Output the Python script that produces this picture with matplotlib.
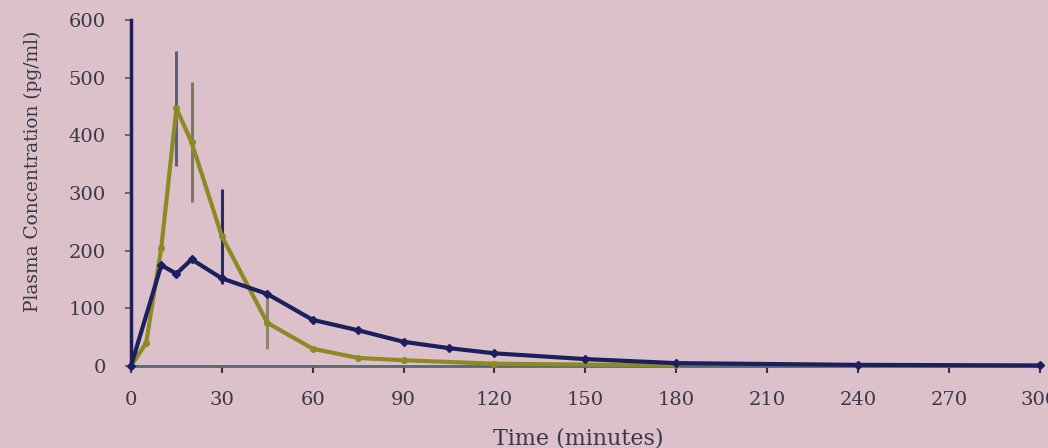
import matplotlib
matplotlib.use("Agg")
import matplotlib.pyplot as plt

# Data
t_blue = [0, 10, 15, 20, 30, 45, 60, 75, 90, 105, 120, 150, 180, 240, 300]
c_blue = [0, 175, 160, 185, 152, 125, 80, 62, 42, 31, 22, 12, 5, 2, 1]

t_green = [0, 5, 10, 15, 20, 30, 45, 60, 75, 90, 120, 180]
c_green = [0, 40, 205, 447, 388, 225, 75, 30, 14, 10, 4, 1]
err_green = [0, 0, 0, 100, 104, 82, 45, 0, 0, 0, 0, 0]

xticks = [0, 30, 60, 90, 120, 150, 180, 210, 240, 270, 300]
yticks = [0, 100, 200, 300, 400, 500, 600]

bg = "#dcc1ca"
navy = "#1c1f5e"
olive = "#8c8a24"
txt = "#3a3848"
serif = ["DejaVu Serif"]

fig = plt.figure(figsize=(10.48, 4.48), dpi=100, facecolor=bg)
ax = fig.add_axes([0.125, 0.183, 0.867, 0.772], facecolor=bg)

err_cols = ["#5e5e7c", "#7e7866", "#2a2c60", "#8e8470"]
k = 0
for t, c, e in zip(t_green, c_green, err_green):
    if e > 0:
        ax.vlines(t, c - e, c + e, color=err_cols[k % len(err_cols)], lw=2.2, zorder=2)
        k += 1
ax.plot(t_green, c_green, color=olive, lw=3, marker="o", ms=4,
        mfc=olive, mec=olive, zorder=3, clip_on=False)
ax.plot(t_blue, c_blue, color=navy, lw=3, marker="D", ms=4.5,
        mfc=navy, mec=navy, zorder=4, clip_on=False)

ax.set_xlim(0, 300)
ax.set_ylim(0, 600)
ax.set_xticks(xticks)
ax.set_yticks(yticks)
ax.set_xticklabels([str(v) for v in xticks], fontsize=14, color=txt, family=serif)
ax.set_yticklabels([str(v) for v in yticks], fontsize=14, color=txt, family=serif)
ax.tick_params(axis="x", length=5, width=1.5, color="#33334a", pad=13)
ax.tick_params(axis="y", length=4, width=1.2, color="#55556a", pad=14)

for s in ["top", "right"]:
    ax.spines[s].set_visible(False)
ax.spines["left"].set_color(navy)
ax.spines["left"].set_linewidth(2.5)
ax.spines["bottom"].set_color("#5a6670")
ax.spines["bottom"].set_linewidth(2)

ax.set_xlabel("Time (minutes)", fontsize=16, color=txt, family=serif)
ax.xaxis.set_label_coords(0.492, -0.178)
ax.set_ylabel("Plasma Concentration (pg/ml)", fontsize=13.4, color=txt, family=serif)
ax.yaxis.set_label_coords(-0.098, 0.564)

fig.savefig("out.png", dpi=100, facecolor=bg)
